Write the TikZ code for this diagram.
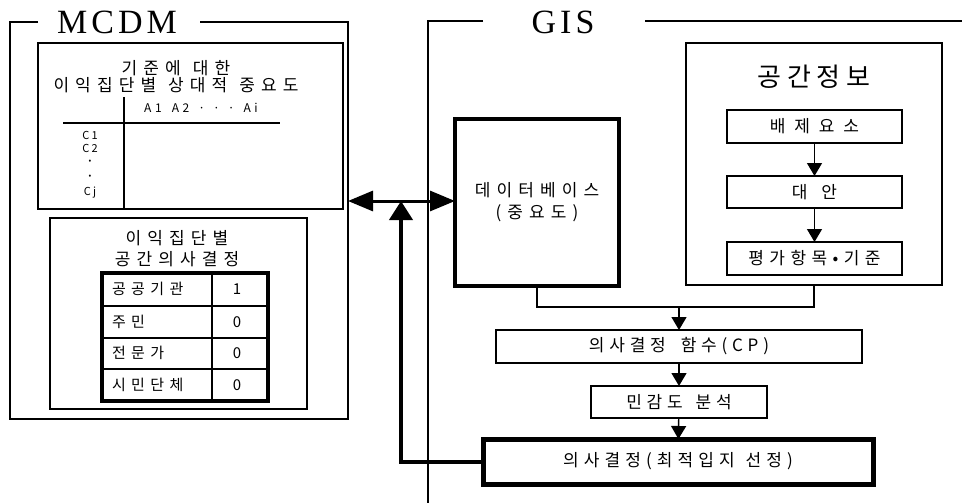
\documentclass[tikz,border=0pt]{standalone}
\usepackage{fontspec}
\setmainfont{Liberation Serif}
\newfontfamily\kr{Noto Sans CJK KR}
\newfontfamily\tiserif{Liberation Serif}
\usetikzlibrary{arrows.meta}
\newcommand\KR[3]{\kr\fontsize{#1}{#2}\selectfont\addfontfeatures{LetterSpace=#3}}
\newcommand\TI{\tiserif\fontsize{34}{34}\selectfont\addfontfeatures{LetterSpace=12}}
\newcommand\gap[1]{\hspace*{#1pt}}
\begin{document}
\begin{tikzpicture}[x=1pt,y=-1pt,
  every node/.style={inner sep=0pt, outer sep=0pt, align=center},
  frameline/.style={line width=1.3pt},
  thinbox/.style={draw, line width=1.3pt},
  flowbox/.style={draw, line width=1.4pt},
  heavybox/.style={draw, line width=4pt},
  gridline/.style={line width=1.3pt},
  flow/.style={line width=1.4pt, -{Triangle[length=13pt,width=15pt]}},
  link/.style={line width=1.4pt},
  bigarrow/.style={line width=3pt, {Triangle[length=25pt,width=20pt]}-{Triangle[length=25pt,width=20pt]}},
  uparrow/.style={line width=4pt, -{Triangle[length=19pt,width=23pt]}},
]
\useasboundingbox (0,0) rectangle (962,503);

% ---------- MCDM frame ----------
\node[minimum width=338pt, minimum height=397pt] (mcdm) at (179,220.5) {};
\draw[frameline] ([xshift=28pt]mcdm.north west) -- (mcdm.north west) -- (mcdm.south west)
  -- (mcdm.south east) -- (mcdm.north east) -- ([xshift=-148pt]mcdm.north east);
\node[font=\TI] (mcdmt) at (117,22) {MCDM};

% ---------- GIS frame ----------
\node[minimum width=534pt, minimum height=482pt] (gis) at (695,262) {};
\draw[frameline] ([xshift=55pt]gis.north west) -- (gis.north west) -- (gis.south west);
\draw[frameline] ([xshift=217pt]gis.north west) -- (gis.north east);
\node[font=\TI] (gist) at (563,22) {GIS};

% ---------- criteria box ----------
\node[thinbox, minimum width=305pt, minimum height=166pt] (crit) at (190.5,126) {};
\node[font={\KR{17}{17}{36}}] (critt) at (176,76.5) {기준에\gap{12}대한\\이익집단별\gap{12}상대적\gap{12}중요도};
\coordinate (cv) at (124,97);
\draw[gridline] (cv) -- (cv |- crit.south);
\coordinate (ch1) at (63,123);
\coordinate (ch2) at (280,123);
\draw[gridline] (ch1) -- (ch2);
\node[font={\KR{12}{12}{30}}] (hdr) at (201,108) {A1\gap{10}A2\gap{9}·\gap{8}·\gap{8}·\gap{9}Ai};
\node[font={\KR{11}{11}{20}}] (c1) at (90,135) {C1};
\node[font={\KR{11}{11}{20}}] (c2) at (90,148) {C2};
\node[font={\KR{8}{8}{0}}] (c3) at (90,162) {•};
\node[font={\KR{8}{8}{0}}] (c4) at (90,177) {•};
\node[font={\KR{11}{11}{20}}] (c5) at (90,193) {Cj};

% ---------- interest group box ----------
\node[thinbox, minimum width=257pt, minimum height=191pt] (grp) at (178.5,313.5) {};
\node[font={\KR{17}{21}{36}}] (grpt) at (177,248.5) {이익집단별\\공간의사결정};
\node[draw, line width=3.5pt, minimum width=166pt, minimum height=128pt] (tab) at (185,337) {};
\coordinate (tc) at (212,273);
\draw[gridline, line width=1.8pt] (tc) -- (tc |- tab.south);
\coordinate (tr1) at (102,306);
\coordinate (tr2) at (102,338);
\coordinate (tr3) at (102,369);
\draw[gridline, line width=1.8pt] (tr1) -- (tr1 -| tab.east);
\draw[gridline, line width=1.8pt] (tr2) -- (tr2 -| tab.east);
\draw[gridline, line width=1.8pt] (tr3) -- (tr3 -| tab.east);
\node[anchor=west, font={\KR{15}{15}{36}}] (g1) at (112,289) {공공기관};
\node[anchor=west, font={\KR{15}{15}{36}}] (g2) at (112,322) {주민};
\node[anchor=west, font={\KR{15}{15}{36}}] (g3) at (112,353) {전문가};
\node[anchor=west, font={\KR{15}{15}{36}}] (g4) at (112,385) {시민단체};
\node[font={\KR{15}{15}{0}}] (v1) at (237,289) {1};
\node[font={\KR{15}{15}{0}}] (v2) at (237,322) {0};
\node[font={\KR{15}{15}{0}}] (v3) at (237,353) {0};
\node[font={\KR{15}{15}{0}}] (v4) at (237,385) {0};

% ---------- database ----------
\node[heavybox, minimum width=164pt, minimum height=167pt, font={\KR{17}{22}{36}}] (db) at (537,202.5) {데이터베이스\\(중요도)};

% ---------- spatial information ----------
\node[thinbox, minimum width=256pt, minimum height=242pt] (sp) at (814,164) {};
\node[font={\KR{26}{26}{22}}] (spt) at (814,77) {공간정보};
\node[flowbox, minimum width=175pt, minimum height=33pt, font={\KR{17}{17}{52}}] (bj) at (814.5,126.5) {배제요소};
\node[flowbox, minimum width=175pt, minimum height=32pt, font={\KR{17}{17}{40}}] (da) at (814.5,192) {대\gap{14}안};
\node[flowbox, line width=2pt, minimum width=175pt, minimum height=33pt, font={\KR{17}{17}{32}}] (pg) at (814.5,258.5) {평가항목•기준};

% ---------- decision chain ----------
\node[flowbox, minimum width=366pt, minimum height=33pt, font={\KR{17}{17}{28}}] (cp) at (679,346.5) {의사결정\gap{15}함수(CP)};
\node[flowbox, minimum width=176pt, minimum height=32pt, font={\KR{17}{17}{28}}] (mg) at (679,402) {민감도\gap{13}분석};
\node[draw, line width=5pt, minimum width=390pt, minimum height=45pt, font={\KR{17}{17}{30}}] (fn) at (678,461.5) {의사결정(최적입지\gap{11}선정)};

% ---------- connectors ----------
\draw[flow] (bj) -- (da);
\draw[flow] (da) -- (pg);
\coordinate (m) at (679,307);
\draw[link] (db.south) |- (m);
\draw[link] (sp.south) |- (m);
\draw[flow] (m) -- (cp.north);
\draw[flow] (cp) -- (mg);
\draw[flow] (mg) -- (fn);
\coordinate (j) at (401,201);
\draw[uparrow] (fn.west) -| (j);
\draw[bigarrow] (j -| mcdm.east) -- (j -| db.west);
\end{tikzpicture}
\end{document}
